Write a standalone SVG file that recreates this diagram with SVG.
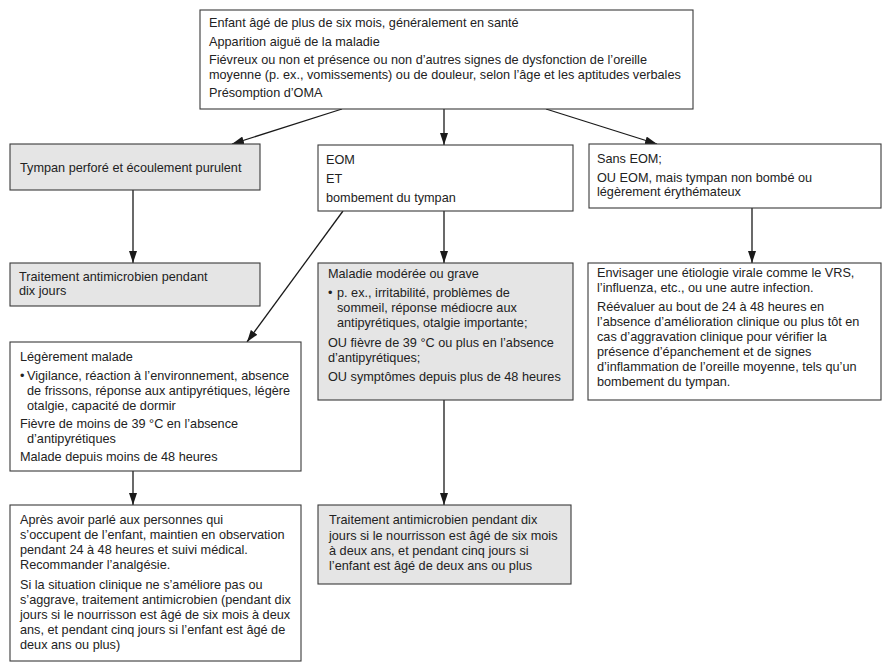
<svg xmlns="http://www.w3.org/2000/svg" width="890" height="671" viewBox="0 0 890 671">
<defs>
<style>
.box{fill:#ffffff;stroke:#3a3a3a;stroke-width:1.1}
.gray{fill:#e5e5e5;stroke:#3a3a3a;stroke-width:1.1}
text{font-family:"Liberation Sans",Arial,sans-serif;font-size:12.7px;fill:#222222}
.conn{stroke:#1a1a1a;stroke-width:1.3;fill:none;marker-end:url(#ah)}
</style>
<marker id="ah" markerUnits="userSpaceOnUse" viewBox="0 0 12 8" refX="12" refY="4" markerWidth="12" markerHeight="8" orient="auto">
<path d="M0,0 L12,4 L0,8 z" fill="#1a1a1a"/>
</marker>
</defs>
<rect width="890" height="671" fill="#ffffff"/>

<g id="connectors">
<line class="conn" x1="342" y1="109" x2="232" y2="144"/>
<line class="conn" x1="444" y1="109" x2="444" y2="145"/>
<line class="conn" x1="546" y1="109" x2="657" y2="144"/>
<line class="conn" x1="133" y1="190" x2="133" y2="263"/>
<line class="conn" x1="444" y1="211" x2="444" y2="263"/>
<line class="conn" x1="343" y1="211" x2="247" y2="342"/>
<line class="conn" x1="752" y1="208" x2="752" y2="263"/>
<line class="conn" x1="133" y1="471" x2="133" y2="505"/>
<line class="conn" x1="444" y1="400" x2="444" y2="505"/>
</g>

<g id="n-top">
<rect class="box" x="200" y="10" width="493" height="99"/>
<text x="209" y="27">Enfant âgé de plus de six mois, généralement en santé</text>
<text x="209" y="45.5">Apparition aiguë de la maladie</text>
<text x="209" y="64">Fiévreux ou non et présence ou non d’autres signes de dysfonction de l’oreille</text>
<text x="209" y="78.5">moyenne (p. ex., vomissements) ou de douleur, selon l’âge et les aptitudes verbales</text>
<text x="209" y="97">Présomption d’OMA</text>
</g>

<g id="n-tympan">
<rect class="gray" x="10" y="144" width="250" height="46"/>
<text x="20" y="171.5">Tympan perforé et écoulement purulent</text>
</g>

<g id="n-eom">
<rect class="box" x="318" y="145" width="255" height="66"/>
<text x="326" y="164">EOM</text>
<text x="326" y="182.5">ET</text>
<text x="326" y="201.5">bombement du tympan</text>
</g>

<g id="n-sans">
<rect class="box" x="589" y="144" width="292" height="64"/>
<text x="597" y="163">Sans EOM;</text>
<text x="597" y="181.5">OU EOM, mais tympan non bombé ou</text>
<text x="597" y="196">légèrement érythémateux</text>
</g>

<g id="n-trait1">
<rect class="gray" x="10" y="263" width="250" height="43"/>
<text x="19" y="280.5">Traitement antimicrobien pendant</text>
<text x="19" y="295">dix jours</text>
</g>

<g id="n-moderee">
<rect class="gray" x="318" y="263" width="255" height="137"/>
<text x="328" y="278">Maladie modérée ou grave</text>
<text x="328" y="297">•</text>
<text x="337" y="297">p. ex., irritabilité, problèmes de</text>
<text x="337" y="312">sommeil, réponse médiocre aux</text>
<text x="337" y="327">antipyrétiques, otalgie importante;</text>
<text x="328" y="346.5">OU fièvre de 39 °C ou plus en l’absence</text>
<text x="328" y="361.5">d’antipyrétiques;</text>
<text x="328" y="381">OU symptômes depuis plus de 48 heures</text>
</g>

<g id="n-virale">
<rect class="box" x="588" y="263" width="293" height="137"/>
<text x="597" y="277">Envisager une étiologie virale comme le VRS,</text>
<text x="597" y="292">l’influenza, etc., ou une autre infection.</text>
<text x="597" y="311">Réévaluer au bout de 24 à 48 heures en</text>
<text x="597" y="326">l’absence d’amélioration clinique ou plus tôt en</text>
<text x="597" y="341">cas d’aggravation clinique pour vérifier la</text>
<text x="597" y="356">présence d’épanchement et de signes</text>
<text x="597" y="371">d’inflammation de l’oreille moyenne, tels qu’un</text>
<text x="597" y="386">bombement du tympan.</text>
</g>

<g id="n-leger">
<rect class="box" x="10" y="342" width="291" height="129"/>
<text x="20" y="361">Légèrement malade</text>
<text x="20" y="380">•</text>
<text x="27" y="380">Vigilance, réaction à l’environnement, absence</text>
<text x="27" y="395">de frissons, réponse aux antipyrétiques, légère</text>
<text x="27" y="410">otalgie, capacité de dormir</text>
<text x="20" y="428">Fièvre de moins de 39 °C en l’absence</text>
<text x="27" y="443">d’antipyrétiques</text>
<text x="20" y="461">Malade depuis moins de 48 heures</text>
</g>

<g id="n-observation">
<rect class="box" x="10" y="505" width="291" height="156"/>
<text x="20" y="524">Après avoir parlé aux personnes qui</text>
<text x="20" y="539">s’occupent de l’enfant, maintien en observation</text>
<text x="20" y="554">pendant 24 à 48 heures et suivi médical.</text>
<text x="20" y="569">Recommander l’analgésie.</text>
<text x="20" y="589">Si la situation clinique ne s’améliore pas ou</text>
<text x="20" y="604">s’aggrave, traitement antimicrobien (pendant dix</text>
<text x="20" y="619">jours si le nourrisson est âgé de six mois à deux</text>
<text x="20" y="634">ans, et pendant cinq jours si l’enfant est âgé de</text>
<text x="20" y="649">deux ans ou plus)</text>
</g>

<g id="n-trait2">
<rect class="gray" x="318" y="505" width="253" height="79"/>
<text x="329" y="524">Traitement antimicrobien pendant dix</text>
<text x="329" y="540">jours si le nourrisson est âgé de six mois</text>
<text x="329" y="555">à deux ans, et pendant cinq jours si</text>
<text x="329" y="570">l’enfant est âgé de deux ans ou plus</text>
</g>
</svg>
